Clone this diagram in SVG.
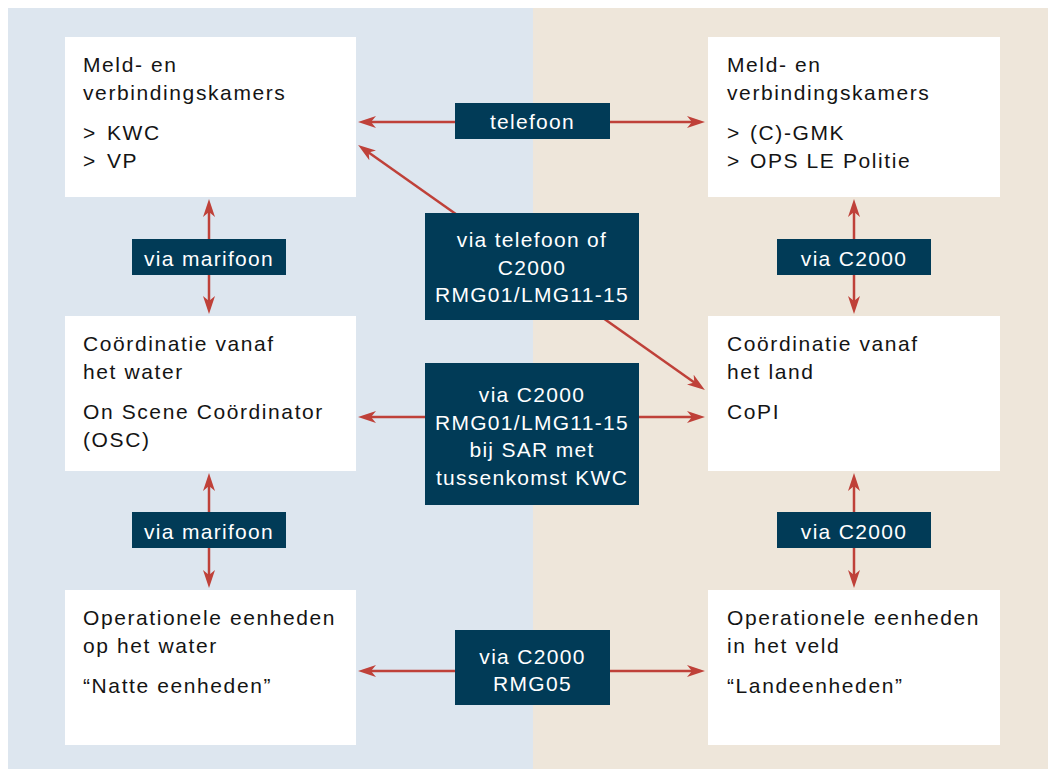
<svg xmlns="http://www.w3.org/2000/svg" width="1048" height="769" viewBox="0 0 1048 769">
  <style>
    .node { fill: #ffffff; }
    .t { font-family: "Liberation Sans", Arial, sans-serif; font-size: 21px; letter-spacing: 1.6px; fill: #141414; }
    .lab { fill: #013b57; }
    .lt { font-family: "Liberation Sans", Arial, sans-serif; font-size: 21px; letter-spacing: 1.3px; fill: #ffffff; text-anchor: middle; }
    .con { stroke: #bf4139; stroke-width: 2.5; fill: none; marker-start: url(#ah); marker-end: url(#ah); }
  </style>
  <defs>
    <marker id="ah" viewBox="0 0 18 12" refX="12" refY="6" markerWidth="18" markerHeight="12" markerUnits="userSpaceOnUse" orient="auto-start-reverse">
      <path d="M0,0 L18,6 L0,12 L5,6 Z" fill="#bf4139"/>
    </marker>
  </defs>

  <rect x="0" y="0" width="1048" height="769" fill="#ffffff"/>
  <rect x="8" y="8" width="525" height="761" fill="#dde6ef"/>
  <rect x="533" y="8" width="515" height="761" fill="#eee6da"/>

  <g id="connectors">
    <line class="con" x1="364" y1="122" x2="699" y2="122"/>
    <line class="con" x1="363" y1="148.5" x2="700" y2="386.5"/>
    <line class="con" x1="364" y1="417" x2="699" y2="417"/>
    <line class="con" x1="364" y1="671" x2="699" y2="671"/>
    <line class="con" x1="209" y1="205" x2="209" y2="308"/>
    <line class="con" x1="209" y1="479" x2="209" y2="582"/>
    <line class="con" x1="854" y1="205" x2="854" y2="308"/>
    <line class="con" x1="854" y1="479" x2="854" y2="582"/>
  </g>

  <g id="node-mvk-water">
    <rect class="node" x="65" y="37" width="291" height="160"/>
    <text class="t" x="83" y="72">Meld- en</text>
    <text class="t" x="83" y="100">verbindingskamers</text>
    <text class="t" y="140"><tspan x="83">&gt;</tspan><tspan x="107">KWC</tspan></text>
    <text class="t" y="168"><tspan x="83">&gt;</tspan><tspan x="107">VP</tspan></text>
  </g>
  <g id="node-mvk-land">
    <rect class="node" x="708" y="37" width="292" height="160"/>
    <text class="t" x="727" y="72">Meld- en</text>
    <text class="t" x="727" y="100">verbindingskamers</text>
    <text class="t" y="140"><tspan x="727">&gt;</tspan><tspan x="750">(C)-GMK</tspan></text>
    <text class="t" y="168"><tspan x="727">&gt;</tspan><tspan x="750">OPS LE Politie</tspan></text>
  </g>
  <g id="node-coord-water">
    <rect class="node" x="65" y="316" width="291" height="155"/>
    <text class="t" x="83" y="351">Coördinatie vanaf</text>
    <text class="t" x="83" y="379">het water</text>
    <text class="t" x="83" y="419">On Scene Coördinator</text>
    <text class="t" x="83" y="447">(OSC)</text>
  </g>
  <g id="node-coord-land">
    <rect class="node" x="708" y="316" width="292" height="155"/>
    <text class="t" x="727" y="351">Coördinatie vanaf</text>
    <text class="t" x="727" y="379">het land</text>
    <text class="t" x="727" y="419">CoPI</text>
  </g>
  <g id="node-op-water">
    <rect class="node" x="65" y="590" width="291" height="155"/>
    <text class="t" x="83" y="625">Operationele eenheden</text>
    <text class="t" x="83" y="653">op het water</text>
    <text class="t" x="83" y="693">“Natte eenheden”</text>
  </g>
  <g id="node-op-land">
    <rect class="node" x="708" y="590" width="292" height="155"/>
    <text class="t" x="727" y="625">Operationele eenheden</text>
    <text class="t" x="727" y="653">in het veld</text>
    <text class="t" x="727" y="693">“Landeenheden”</text>
  </g>

  <g id="label-telefoon">
    <rect class="lab" x="455" y="103" width="155" height="36"/>
    <text class="lt" x="532.5" y="129">telefoon</text>
  </g>
  <g id="label-diag">
    <rect class="lab" x="425" y="213" width="214" height="107"/>
    <text class="lt" x="532" y="247">via telefoon of</text>
    <text class="lt" x="532" y="274.5">C2000</text>
    <text class="lt" x="532" y="302">RMG01/LMG11-15</text>
  </g>
  <g id="label-c2000-mid">
    <rect class="lab" x="425" y="363" width="214" height="142"/>
    <text class="lt" x="532" y="402">via C2000</text>
    <text class="lt" x="532" y="429.5">RMG01/LMG11-15</text>
    <text class="lt" x="532" y="457">bij SAR met</text>
    <text class="lt" x="532" y="484.5">tussenkomst KWC</text>
  </g>
  <g id="label-rmg05">
    <rect class="lab" x="455" y="630" width="155" height="75"/>
    <text class="lt" x="532.5" y="664">via C2000</text>
    <text class="lt" x="532.5" y="691">RMG05</text>
  </g>
  <g id="label-marifoon-top">
    <rect class="lab" x="132" y="239" width="154" height="36"/>
    <text class="lt" x="209" y="266">via marifoon</text>
  </g>
  <g id="label-marifoon-bottom">
    <rect class="lab" x="132" y="512" width="154" height="36"/>
    <text class="lt" x="209" y="539">via marifoon</text>
  </g>
  <g id="label-c2000-top">
    <rect class="lab" x="777" y="239" width="154" height="36"/>
    <text class="lt" x="854" y="266">via C2000</text>
  </g>
  <g id="label-c2000-bottom">
    <rect class="lab" x="777" y="512" width="154" height="36"/>
    <text class="lt" x="854" y="539">via C2000</text>
  </g>
</svg>
